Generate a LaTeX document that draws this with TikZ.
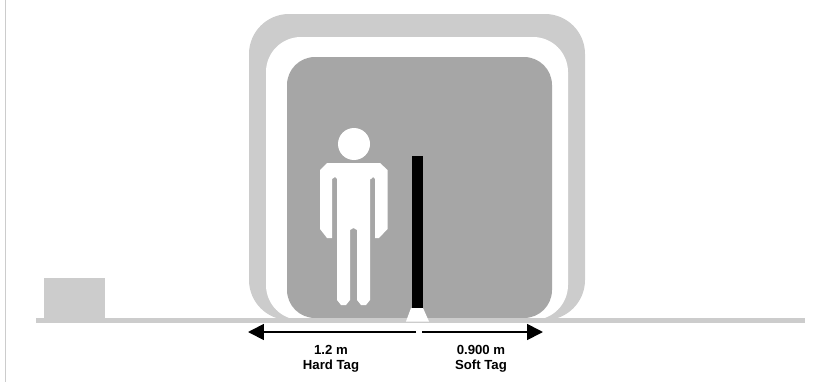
\documentclass[tikz,border=0pt]{standalone}
\usepackage{fontspec}
\setmainfont{Liberation Sans}
\usepackage{tikz}
\usetikzlibrary{
	arrows.meta
}

\begin{document}
\begin{tikzpicture}[
				x=0.02cm, y=-0.02cm,
				paleshape/.style={fill=black!20},
				darkshape/.style={fill=black!35},
				readrange/.style={line width=1pt, -{Triangle[length=0.32cm, width=0.32cm]}},
				tagtext/.style={font=\bfseries\fontsize{7.5}{8.3}\selectfont, inner sep=0pt, align=center}
			]
				\useasboundingbox (0, 0) rectangle (832, 382);
				% left edge
				\fill[paleshape] (5, 0) rectangle (6.3, 382);
				% rounded fields
				\fill[paleshape, rounded corners=0.8cm] (249, 14) rectangle (585, 320);
				\fill[white, rounded corners=0.7cm] (266, 37) rectangle (568, 320);
				\fill[darkshape, rounded corners=0.56cm] (287, 57) rectangle (552, 318);
				% ground and box
				\fill[paleshape] (36, 318.3) rectangle (805, 322.7);
				\fill[paleshape] (44, 278) rectangle (105, 320);
				% person
				\fill[white] (354, 144) circle (16);
				\fill[white] (327, 163) -- (380, 163) -- (387.5, 170) -- (387.5, 229) -- (379, 238) -- (375, 238)
					-- (375, 179) -- (373, 177) -- (371, 179) -- (370, 179) -- (370, 300) -- (366, 305) -- (361, 305) -- (357, 300)
					-- (357, 230) -- (353.5, 228) -- (350, 230) -- (350, 300) -- (346, 305) -- (341, 305) -- (337, 300)
					-- (337, 179) -- (335, 177) -- (332, 179) -- (332, 238) -- (327, 238) -- (320, 229) -- (320, 170) -- cycle;
				% pole
				\fill[black] (411.7, 156) rectangle (423, 308);
				\fill[white] (411, 308) -- (423, 308) -- (429, 321.5) -- (406, 321.5) -- cycle;
				% points
				\coordinate (hard-start) at (416, 332);
				\coordinate (hard-end)   at (248, 332);
				\coordinate (soft-start) at (422, 332);
				\coordinate (soft-end)   at (543, 332);
				% ranges
				\draw[readrange] (hard-start) -- (hard-end);
				\draw[readrange] (soft-start) -- (soft-end);
				\node[tagtext] (hardlabel) at (331, 358.5) {1.2 m\\Hard Tag};
				\node[tagtext] (softlabel) at (481, 358.5) {0.900 m\\Soft Tag};
			\end{tikzpicture}
\end{document}
